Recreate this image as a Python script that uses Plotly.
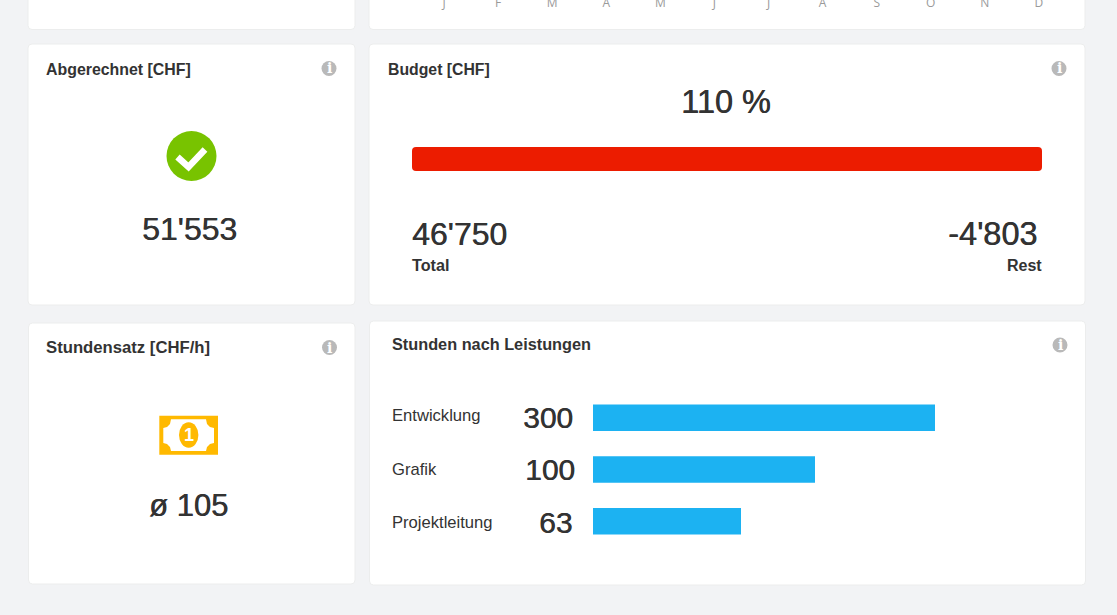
import plotly.graph_objects as go

# ---- data ----
months = ["J", "F", "M", "A", "M", "J", "J", "A", "S", "O", "N", "D"]
month_idx = list(range(12))
services = ["Entwicklung", "Grafik", "Projektleitung"]
hours = ["300", "100", "63"]
bar_lengths = [342, 222, 148]
budget_pct = 110
billed = "51'553"
budget_total = "46'750"
budget_rest = "-4'803"
rate = "ø 105"

W, H = 1117, 615
BG = "#f2f3f5"
INK = "#333333"
FONT = "Liberation Sans"
MEDIUM = "0.5px 0 0 #333333"


def X(p):
    return p / W


def Y(p):
    return 1 - p / H


def card(x0, y0, x1, y1, r=4):
    a, b, c, d = X(x0), Y(y0), X(x1), Y(y1)
    rx, ry = r / W, r / H
    path = (f"M{a+rx},{b} L{c-rx},{b} Q{c},{b} {c},{b-ry} L{c},{d+ry} Q{c},{d} {c-rx},{d} "
            f"L{a+rx},{d} Q{a},{d} {a},{d+ry} L{a},{b-ry} Q{a},{b} {a+rx},{b} Z")
    return dict(type="path", xref="paper", yref="paper", path=path, fillcolor="white",
                line=dict(color="#eceded", width=1), layer="below")


def ellipse(cx, cy, rx, ry, color):
    return dict(type="circle", xref="paper", yref="paper", x0=X(cx - rx), x1=X(cx + rx),
                y0=Y(cy + ry), y1=Y(cy - ry), fillcolor=color, line_width=0, layer="above")


def poly(points, fill=None, line=None, closed=True):
    d = "M" + " L".join(f"{X(a)},{Y(b)}" for a, b in points) + (" Z" if closed else "")
    return dict(type="path", xref="paper", yref="paper", path=d,
                fillcolor=fill if fill else "rgba(0,0,0,0)",
                line=line if line else dict(width=0), layer="above")


def text(x, y, s, size, anchor="left", bold=False, color=INK, family=FONT, medium=False):
    font = dict(family=family, size=size, color=color)
    if medium:
        font["shadow"] = MEDIUM
    return dict(xref="paper", yref="paper", x=X(x), y=Y(y), text=f"<b>{s}</b>" if bold else s,
                showarrow=False, xanchor=anchor, yanchor="middle", borderpad=0, borderwidth=0,
                font=font)


fig = go.Figure()

# month axis of the cut-off card above
fig.add_trace(go.Scatter(x=month_idx, y=[0] * 12, mode="none", xaxis="x", yaxis="y",
                         hoverinfo="skip", showlegend=False))

# budget bar
fig.add_trace(go.Bar(y=["Budget"], x=[budget_pct], base=[0],
                     orientation="h", xaxis="x2", yaxis="y2", width=1,
                     marker=dict(color="#ec1c00", cornerradius=4, line_width=0),
                     showlegend=False))

# hours by service
fig.add_trace(go.Bar(y=services, x=bar_lengths, orientation="h", xaxis="x3", yaxis="y3",
                     marker=dict(color="#1cb2f2", line_width=0), showlegend=False))

shapes = [
    card(28, -10, 355, 29.5),
    card(369, -10, 1085, 29.5),
    card(28, 44, 355, 305),
    card(369, 44, 1085, 305),
    card(28.5, 323, 355, 584),
    card(369.5, 321, 1085.5, 585),
    # green check badge
    ellipse(191.5, 156, 25, 25, "#78c300"),
    poly([(177.5, 157), (188.5, 167), (205, 149.5)], line=dict(color="white", width=6.5), closed=False),
    # banknote
    poly([(159.3, 415.7), (218, 415.7), (218, 454.7), (159.3, 454.7)], fill="#ffb900"),
    poly([(171, 419.3), (206, 419.3), (207, 424), (210, 427), (214, 428), (214, 443), (210, 444),
          (207, 447), (206, 451), (171, 451), (170, 447), (167, 444), (163.3, 443), (163.3, 428),
          (167, 427), (170, 424)], fill="white"),
    ellipse(188.7, 435, 9.7, 12.7, "#ffb900"),
]
# info icons
info = [(329, 68.5), (1059, 68.5), (329.5, 347.5), (1060, 345)]
shapes += [ellipse(a, b, 7.5, 7.5, "#b9b9b9") for a, b in info]

annotations = [
    text(46, 69, "Abgerechnet [CHF]", 15.9, bold=True),
    text(388, 69, "Budget [CHF]", 15.8, bold=True),
    text(46, 348, "Stundensatz [CHF/h]", 16.7, bold=True),
    text(391.5, 343.5, "Stunden nach Leistungen", 16.3, bold=True),
    text(189, 229, billed, 32, "center", medium=True),
    text(726, 102.5, f"{budget_pct} %", 32.5, "center", medium=True),
    text(412, 234, budget_total, 32, medium=True),
    text(1037, 234, budget_rest, 32.5, "right", medium=True),
    text(412, 265, "Total", 16.2, bold=True),
    text(1042, 265, "Rest", 16, bold=True, anchor="right"),
    text(188, 505, rate, 31, "center", medium=True),
    text(188.7, 435, "1", 18, "center", bold=True, color="white"),
]
annotations += [text(a, b, "i", 14, "center", bold=True, color="white", family="DejaVu Serif") for a, b in info]
for name, value, yy, yv, right in zip(services, hours, [415.5, 469, 522.5], [417.5, 469, 522.5], [573, 575, 572]):
    annotations.append(text(392, yy, name, 16.6))
    annotations.append(text(right, yv, value, 30, "right", medium=True))

hidden = dict(visible=False, fixedrange=True, automargin=False)

fig.update_layout(
    width=W, height=H, autosize=False,
    margin=dict(l=0, r=0, t=0, b=0),
    paper_bgcolor=BG, plot_bgcolor="rgba(0,0,0,0)",
    font=dict(family=FONT, color=INK),
    showlegend=False, barmode="overlay", bargap=0.488,
    shapes=shapes, annotations=annotations,
    xaxis=dict(domain=[X(417), X(1066)], range=[-0.5, 11.5], side="top", anchor="y", automargin=False,
               tickmode="array", tickvals=month_idx, ticktext=months, showgrid=False, zeroline=False,
               showline=False, ticks="", tickfont=dict(family="Open Sans", size=12, color="#9a9a9a")),
    yaxis=dict(domain=[Y(16), Y(10)], range=[0, 1], visible=False, automargin=False),
    xaxis2=dict(domain=[X(412), X(1042)], range=[0, budget_pct], anchor="y2", **hidden),
    yaxis2=dict(domain=[Y(171), Y(147)], anchor="x2", **hidden),
    xaxis3=dict(domain=[X(593), X(1043)], range=[0, 450], anchor="y3", **hidden),
    yaxis3=dict(domain=[Y(547), Y(392)], anchor="x3", autorange="reversed", **hidden),
)

fig.write_html("out.html", config=dict(displayModeBar=False),
               post_script=f"document.body.style.margin='0';document.body.style.background='{BG}';"
                           "document.documentElement.style.overflow='hidden';")
